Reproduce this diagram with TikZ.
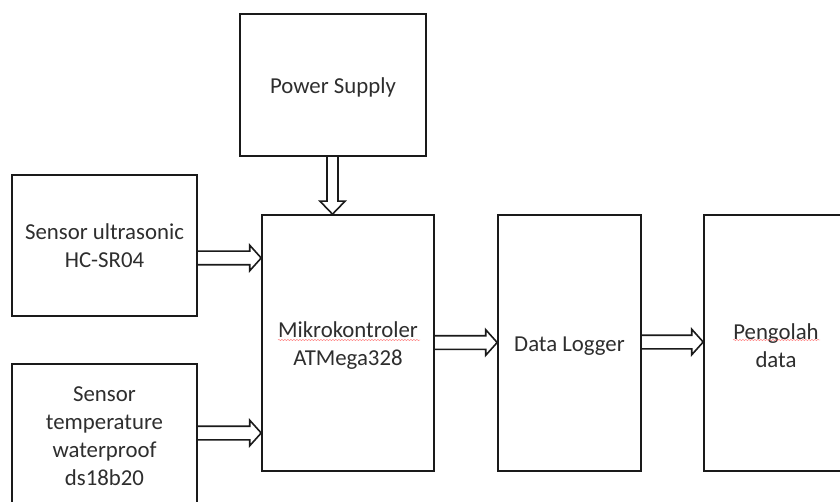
\documentclass[tikz,border=0pt]{standalone}
\usepackage{fontspec}
\setmainfont{Carlito}
\usetikzlibrary{calc,decorations.pathmorphing}
\definecolor{txt}{HTML}{2E2E2E}
\definecolor{ln}{HTML}{1A1A1A}
\tikzset{
  blockbox/.style={draw=ln, line width=1.6pt, rectangle, inner sep=0pt},
  lbl/.style={align=center, text=txt, font=\fontsize{22.8}{28}\selectfont, inner sep=0pt},
  blk/.style={draw=ln, line width=1.6pt, line join=miter},
  spell/.style={draw=red!55, line width=0.45pt, decorate,
    decoration={snake, amplitude=0.6pt, segment length=3pt}}
}
\newcommand\harrowxy[3]{%
  \draw[blk] let \p1=(#1 |- 0,#3), \p2=(#2 |- 0,#3) in
    (\x1,\y1+6.8pt) -- (\x2-11.5pt,\y1+6.8pt) -- (\x2-11.5pt,\y1+12.8pt) -- (\x2,\y1)
    -- (\x2-11.5pt,\y1-12.8pt) -- (\x2-11.5pt,\y1-6.8pt) -- (\x1,\y1-6.8pt);}
\newcommand\varrowxy[3]{%
  \draw[blk] let \p1=(#3,0 |- #1), \p2=(#3,0 |- #2) in
    (\x1-5.5pt,\y1) -- (\x1-5.5pt,\y2+13pt) -- (\x1-12.5pt,\y2+13pt) -- (\x1,\y2)
    -- (\x1+12.5pt,\y2+13pt) -- (\x1+5.5pt,\y2+13pt) -- (\x1+5.5pt,\y1);}
\begin{document}
\begin{tikzpicture}[x=1pt,y=-1pt]
\useasboundingbox (0,0) rectangle (840,502);
\clip (0,0) rectangle (840,502);
\fill[white] (0,0) rectangle (840,502);
\node[blockbox, minimum width=186pt, minimum height=142pt,
  label={[lbl, yshift=-2.5pt]center:Power Supply}] (ps) at (333,85) {};
\node[blockbox, minimum width=185pt, minimum height=141pt,
  label={[lbl]center:Sensor ultrasonic\\HC-SR04}] (us) at (104.5,245.5) {};
\node[blockbox, minimum width=185pt, minimum height=142pt,
  label={[lbl, yshift=-1pt]center:Sensor\\temperature\\waterproof\\ds18b20}] (tp) at (104.5,435) {};
\node[blockbox, minimum width=172pt, minimum height=256pt,
  label={[lbl, yshift=-3pt]center:Mikrokontroler\\ATMega328}] (mk) at (348,343) {};
\node[blockbox, minimum width=143pt, minimum height=256pt,
  label={[lbl, yshift=-3.5pt]center:Data Logger}] (dl) at (569.5,343) {};
\node[blockbox, minimum width=144pt, minimum height=256pt,
  label={[lbl, yshift=-3pt]center:Pengolah\\data}] (pd) at (776,343) {};
\varrowxy{ps.south}{mk.north}{332.5}
\harrowxy{us.east}{mk.west}{258}
\harrowxy{tp.east}{mk.west}{433}
\harrowxy{mk.east}{dl.west}{342.5}
\harrowxy{dl.east}{pd.west}{342}
\draw[spell] ($(mk.center)+(-70,-3)$) -- ($(mk.center)+(72,-3)$);
\draw[spell] ($(pd.center)+(-43,-3)$) -- ($(pd.center)+(44,-3)$);
\end{tikzpicture}
\end{document}
